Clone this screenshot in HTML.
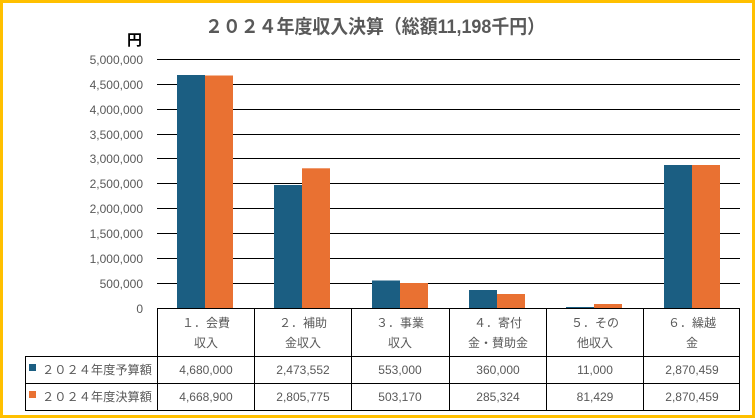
<!DOCTYPE html>
<html><head><meta charset="utf-8"><style>
html,body{margin:0;padding:0;background:#fff}
svg{display:block}
text{font-family:"Liberation Sans","Noto Sans CJK JP",sans-serif}
</style></head><body>
<svg width="755" height="418" viewBox="0 0 755 418" xmlns="http://www.w3.org/2000/svg">
<rect x="1.5" y="1.5" width="752" height="415" fill="#fff" stroke="#FFC000" stroke-width="3"/>
<text x="205" y="33" font-size="19" font-weight="bold" fill="#595959" textLength="340" lengthAdjust="spacingAndGlyphs">２０２４年度収入決算（総額11,198千円）</text>
<text x="142" y="45" font-size="15" font-weight="bold" fill="#000" text-anchor="end">円</text>
<g stroke="#000" stroke-width="1">
<line x1="157" x2="740" y1="59.5" y2="59.5"/>
<line x1="157" x2="740" y1="84.5" y2="84.5"/>
<line x1="157" x2="740" y1="109.5" y2="109.5"/>
<line x1="157" x2="740" y1="134.5" y2="134.5"/>
<line x1="157" x2="740" y1="158.5" y2="158.5"/>
<line x1="157" x2="740" y1="183.5" y2="183.5"/>
<line x1="157" x2="740" y1="208.5" y2="208.5"/>
<line x1="157" x2="740" y1="233.5" y2="233.5"/>
<line x1="157" x2="740" y1="258.5" y2="258.5"/>
<line x1="157" x2="740" y1="283.5" y2="283.5"/>
</g>
<g font-size="12" fill="#595959" text-anchor="end">
<text x="143" y="64">5,000,000</text>
<text x="143" y="89">4,500,000</text>
<text x="143" y="114">4,000,000</text>
<text x="143" y="139">3,500,000</text>
<text x="143" y="163">3,000,000</text>
<text x="143" y="188">2,500,000</text>
<text x="143" y="213">2,000,000</text>
<text x="143" y="238">1,500,000</text>
<text x="143" y="263">1,000,000</text>
<text x="143" y="288">500,000</text>
<text x="143" y="313">0</text>
</g>
<g fill="#1B5E82">
<rect x="177" y="75" width="28" height="233"/>
<rect x="274" y="185" width="28" height="123"/>
<rect x="372" y="280.5" width="28" height="27.5"/>
<rect x="469" y="290" width="28" height="18"/>
<rect x="566" y="307" width="28" height="1"/>
<rect x="664" y="165" width="28" height="143"/>
</g>
<g fill="#E97132">
<rect x="205" y="75.5" width="28" height="232.5"/>
<rect x="302" y="168.3" width="28" height="139.7"/>
<rect x="400" y="283" width="28" height="25"/>
<rect x="497" y="294" width="28" height="14"/>
<rect x="594" y="304" width="28" height="4"/>
<rect x="692" y="165" width="28" height="143"/>
</g>
<g stroke="#000" stroke-width="1" fill="none">
<line x1="157" x2="740" y1="308.5" y2="308.5"/>
<line x1="25" x2="740" y1="356.5" y2="356.5"/>
<line x1="25" x2="740" y1="383.5" y2="383.5"/>
<line x1="25" x2="740" y1="410.5" y2="410.5"/>
<line x1="25.5" x2="25.5" y1="356" y2="411"/>
<line x1="157.5" x2="157.5" y1="308" y2="411"/>
<line x1="254.5" x2="254.5" y1="308" y2="411"/>
<line x1="351.5" x2="351.5" y1="308" y2="411"/>
<line x1="449.5" x2="449.5" y1="308" y2="411"/>
<line x1="546.5" x2="546.5" y1="308" y2="411"/>
<line x1="643.5" x2="643.5" y1="308" y2="411"/>
<line x1="739.5" x2="739.5" y1="308" y2="411"/>
</g>
<g font-size="12" fill="#595959" text-anchor="middle">
<text x="206" y="327">１．会費</text><text x="206" y="347">収入</text>
<text x="303" y="327">２．補助</text><text x="303" y="347">金収入</text>
<text x="400" y="327">３．事業</text><text x="400" y="347">収入</text>
<text x="498" y="327">４．寄付</text><text x="498" y="347">金・賛助金</text>
<text x="595" y="327">５．その</text><text x="595" y="347">他収入</text>
<text x="692" y="327">６．繰越</text><text x="692" y="347">金</text>
<text x="206" y="374">4,680,000</text><text x="303" y="374">2,473,552</text><text x="400" y="374">553,000</text><text x="498" y="374">360,000</text><text x="595" y="374">11,000</text><text x="692" y="374">2,870,459</text>
<text x="206" y="401">4,668,900</text><text x="303" y="401">2,805,775</text><text x="400" y="401">503,170</text><text x="498" y="401">285,324</text><text x="595" y="401">81,429</text><text x="692" y="401">2,870,459</text>
</g>
<rect x="29" y="364" width="7" height="7" fill="#1B5E82"/>
<rect x="29" y="391" width="7" height="7" fill="#E97132"/>
<g font-size="12" fill="#595959">
<text x="42" y="374" textLength="110" lengthAdjust="spacingAndGlyphs">２０２４年度予算額</text>
<text x="42" y="401" textLength="110" lengthAdjust="spacingAndGlyphs">２０２４年度決算額</text>
</g>
</svg>
</body></html>
